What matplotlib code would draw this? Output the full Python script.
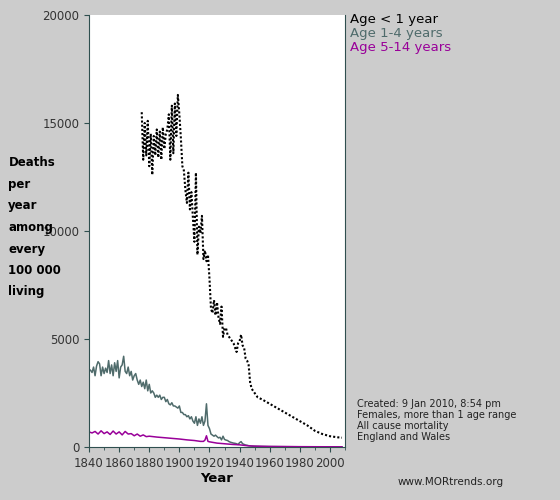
import matplotlib
matplotlib.use("Agg")
import matplotlib.pyplot as plt

yr_inf = [1875,1876,1877,1878,1879,1880,1881,1882,1883,1884,1885,1886,1887,1888,1889,1890,1891,1892,1893,1894,1895,1896,1897,1898,1899,
          1900,1901,1902,1903,1904,1905,1906,1907,1908,1909,1910,1911,1912,1913,1914,1915,1916,1917,1918,1919,1920,1921,1922,1923,1924,
          1925,1926,1927,1928,1929,1930,1931,1932,1933,1934,1935,1936,1937,1938,1939,1940,1941,1942,1943,1944,1945,1946,1947,1948,1949,
          1950,1952,1955,1960,1965,1970,1975,1980,1985,1990,1995,2000,2005,2008]
val_inf = [15500,13300,15000,13500,15100,13000,14500,12600,14400,13500,14700,13400,14600,13300,14800,13800,14500,14700,15400,13300,15800,13600,15900,14400,16300,
           15400,14300,13000,12800,11900,11300,12700,11000,11800,10600,9500,12700,8900,10200,9900,10700,8700,9100,8600,8900,7800,6400,6200,6800,6100,
           6700,6000,5700,6500,5100,5500,5500,5200,5100,5000,4900,4800,4600,4400,4800,4900,5200,4700,4600,4100,4000,3800,3000,2700,2600,
           2500,2300,2200,2000,1800,1600,1400,1200,1000,750,600,500,450,430]

yr_14 = list(range(1840, 1949)) + [1950,1955,1960,1970,1980,1990,2000,2008]
val_14 = [3600,3550,3450,3700,3300,3750,3950,3850,3300,3700,3400,3650,3450,4000,3400,3800,3300,3900,3500,4000,
          3200,3700,3800,4200,3500,3400,3700,3300,3500,3100,3300,3400,3100,2900,3100,2800,3000,2700,3100,2600,
          2900,2500,2600,2500,2300,2400,2300,2400,2200,2300,2300,2100,2200,2000,1950,2050,1900,1900,1850,1800,
          1900,1600,1600,1500,1500,1400,1450,1300,1400,1200,1100,1400,1000,1300,1100,1400,1000,1200,2000,1000,
          850,600,550,500,550,480,420,450,330,500,350,320,300,250,220,200,180,170,150,120,
          200,250,150,120,90,80,60,50,40,
          35,25,20,15,10,8,6,5]

yr_514 = [1840,1842,1844,1846,1848,1850,1852,1854,1856,1858,1860,1862,1864,1866,1868,1870,1872,1874,1876,1878,1880,
          1885,1890,1895,1900,1905,1910,1914,1916,1917,1918,1919,1920,1925,1930,1935,1940,1945,1950,1960,1970,1980,1990,2000,2008]
val_514 = [700,650,720,600,750,620,700,580,740,600,700,560,720,600,620,520,600,500,560,480,500,
           460,430,400,370,330,300,260,260,320,520,260,240,180,150,120,100,60,40,25,20,15,12,10,8]

fig = plt.figure(figsize=(5.6, 5.0), dpi=100)
fig.patch.set_facecolor("#cccccc")
ax = fig.add_axes([0.159, 0.106, 0.457, 0.864])
ax.set_facecolor("white")
ax.plot(yr_14, val_14, color="#4f6b6b", lw=1.1)
ax.plot(yr_514, val_514, color="#990099", lw=1.1)
ax.plot(yr_inf, val_inf, color="black", lw=1.5, ls=(0, (1, 1)))
ax.set_xlim(1840, 2010)
ax.set_ylim(0, 20000)
ax.set_xticks(range(1840, 2001, 20))
ax.set_xticks(range(1840, 2011, 10), minor=True)
ax.set_yticks(range(0, 20001, 5000))
for s in ["left", "right", "bottom"]:
    ax.spines[s].set_color("#2f4f4f")
ax.spines["top"].set_visible(False)
ax.tick_params(colors="#2f4f4f", labelcolor="#333333", labelsize=8.5)
ax.tick_params(which="minor", colors="#2f4f4f")
ax.set_xlabel("Year", fontweight="bold", fontsize=9.5, labelpad=2)

fig.text(0.015, 0.545, "Deaths\nper\nyear\namong\nevery\n100 000\nliving", fontweight="bold",
         fontsize=8.5, linespacing=1.85, va="center", ha="left")
fig.text(0.625, 0.955, "Age < 1 year", color="black", fontsize=9.5)
fig.text(0.625, 0.927, "Age 1-4 years", color="#4f6b6b", fontsize=9.5)
fig.text(0.625, 0.899, "Age 5-14 years", color="#990099", fontsize=9.5)
fig.text(0.638, 0.115, "Created: 9 Jan 2010, 8:54 pm\nFemales, more than 1 age range\nAll cause mortality\nEngland and Wales",
         fontsize=7, color="#222222", va="bottom", linespacing=1.15)
fig.text(0.71, 0.03, "www.MORtrends.org", fontsize=7.5, color="#222222")
fig.savefig("out.png", dpi=100, facecolor=fig.get_facecolor())
